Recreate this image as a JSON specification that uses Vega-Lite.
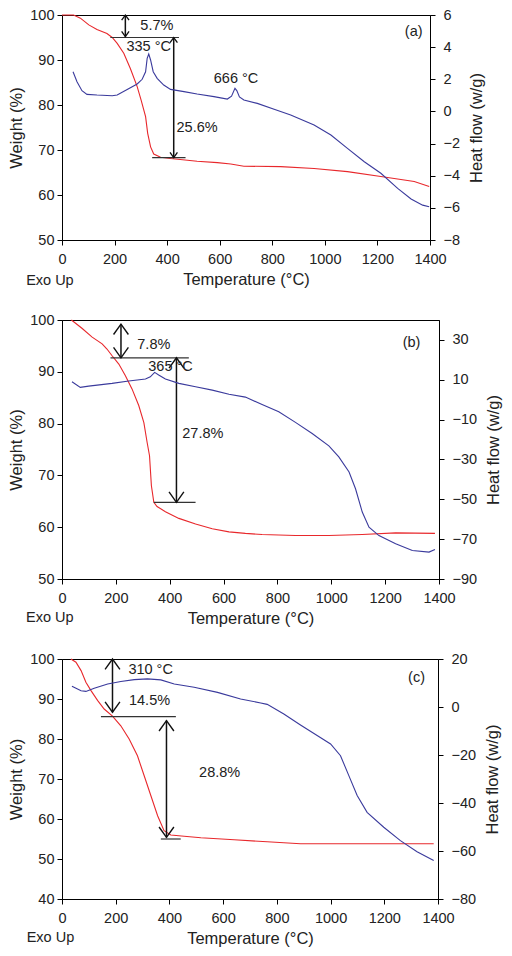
{
  "$schema": "https://vega.github.io/schema/vega-lite/v6.json",
  "padding": {"left": 8, "top": 6, "right": 0, "bottom": 0},
  "spacing": 22,
  "config": {
    "font": "Liberation Sans",
    "numberFormat": "d",
    "view": {"stroke": "#000", "strokeWidth": 1},
    "axis": {
      "grid": false, "domainColor": "#000", "tickColor": "#000", "tickSize": 5,
      "labelFont": "Liberation Sans", "titleFont": "Liberation Sans",
      "labelFontSize": 14.5, "titleFontSize": 16.5, "titleFontWeight": "normal",
      "labelColor": "#222", "titleColor": "#222", "labelOverlap": false, "labelFlush": false
    },
    "axisLeft": {"labelPadding": 3, "titlePadding": 5},
    "axisRight": {"labelPadding": 8, "titlePadding": 9, "labelAlign": "left", "titleAngle": 270, "titleBaseline": "top"},
    "axisBottom": {"labelPadding": 7, "titlePadding": 6},
    "text": {"font": "Liberation Sans", "fontSize": 14.5, "color": "#222"}
  },
  "datasets": {
    "a_w": [
      {"T": 0, "v": 100}, {"T": 44, "v": 100}, {"T": 70, "v": 99.3}, {"T": 102, "v": 97.8}, {"T": 133, "v": 96.8},
      {"T": 171, "v": 95.9}, {"T": 191, "v": 95}, {"T": 210, "v": 93.7}, {"T": 235, "v": 91.5}, {"T": 260, "v": 88.1},
      {"T": 286, "v": 84.1}, {"T": 301, "v": 81.1}, {"T": 318, "v": 77.4}, {"T": 326, "v": 73.7}, {"T": 337, "v": 70.7},
      {"T": 349, "v": 69.1}, {"T": 375, "v": 68.4}, {"T": 413, "v": 68.1}, {"T": 514, "v": 67.5}, {"T": 591, "v": 67.2},
      {"T": 642, "v": 66.9}, {"T": 692, "v": 66.4}, {"T": 832, "v": 66.3}, {"T": 959, "v": 65.9}, {"T": 1086, "v": 65.2},
      {"T": 1213, "v": 64.1}, {"T": 1340, "v": 63}, {"T": 1397, "v": 61.9}
    ],
    "a_h": [
      {"T": 42, "v": 2.47}, {"T": 57, "v": 1.85}, {"T": 76, "v": 1.29}, {"T": 95, "v": 1.06}, {"T": 133, "v": 1.02},
      {"T": 191, "v": 0.98}, {"T": 210, "v": 1.02}, {"T": 248, "v": 1.37}, {"T": 286, "v": 1.71}, {"T": 305, "v": 2.0},
      {"T": 318, "v": 2.47}, {"T": 324, "v": 3.3}, {"T": 330, "v": 3.57}, {"T": 337, "v": 3.2}, {"T": 347, "v": 2.47},
      {"T": 362, "v": 2.06}, {"T": 387, "v": 1.64}, {"T": 413, "v": 1.37}, {"T": 464, "v": 1.23}, {"T": 514, "v": 1.08},
      {"T": 578, "v": 0.92}, {"T": 629, "v": 0.77}, {"T": 645, "v": 0.95}, {"T": 658, "v": 1.44}, {"T": 665, "v": 1.3},
      {"T": 675, "v": 0.9}, {"T": 692, "v": 0.71}, {"T": 743, "v": 0.5}, {"T": 807, "v": 0.13}, {"T": 870, "v": -0.22},
      {"T": 959, "v": -0.85}, {"T": 1023, "v": -1.47}, {"T": 1086, "v": -2.3}, {"T": 1150, "v": -3.13}, {"T": 1213, "v": -3.85},
      {"T": 1277, "v": -4.79}, {"T": 1328, "v": -5.45}, {"T": 1372, "v": -5.83}, {"T": 1397, "v": -5.93}
    ],
    "b_w": [
      {"T": 35, "v": 100}, {"T": 74, "v": 98.4}, {"T": 112, "v": 96.7}, {"T": 149, "v": 95.4}, {"T": 167, "v": 94.4},
      {"T": 186, "v": 93.1}, {"T": 211, "v": 91.5}, {"T": 235, "v": 89.3}, {"T": 260, "v": 86.7}, {"T": 285, "v": 83.5},
      {"T": 304, "v": 80.2}, {"T": 316, "v": 76.4}, {"T": 325, "v": 73.8}, {"T": 332, "v": 68}, {"T": 341, "v": 64.8},
      {"T": 353, "v": 64}, {"T": 384, "v": 63}, {"T": 434, "v": 61.7}, {"T": 496, "v": 60.6}, {"T": 558, "v": 59.7},
      {"T": 620, "v": 59.1}, {"T": 681, "v": 58.8}, {"T": 743, "v": 58.6}, {"T": 867, "v": 58.4}, {"T": 991, "v": 58.4},
      {"T": 1115, "v": 58.6}, {"T": 1239, "v": 58.9}, {"T": 1385, "v": 58.8}
    ],
    "b_h": [
      {"T": 37, "v": 9.0}, {"T": 68, "v": 6.2}, {"T": 99, "v": 6.8}, {"T": 186, "v": 8.2}, {"T": 248, "v": 9.4},
      {"T": 310, "v": 10.4}, {"T": 328, "v": 11.5}, {"T": 344, "v": 13.7}, {"T": 359, "v": 12.4}, {"T": 384, "v": 10.4},
      {"T": 434, "v": 8.2}, {"T": 496, "v": 6.5}, {"T": 558, "v": 4.8}, {"T": 620, "v": 2.7}, {"T": 681, "v": 1.3},
      {"T": 743, "v": -2.4}, {"T": 805, "v": -6.1}, {"T": 867, "v": -11.4}, {"T": 929, "v": -17}, {"T": 991, "v": -23.2},
      {"T": 1028, "v": -28.7}, {"T": 1066, "v": -36.3}, {"T": 1090, "v": -44.7}, {"T": 1115, "v": -56.4}, {"T": 1140, "v": -64},
      {"T": 1177, "v": -68.2}, {"T": 1239, "v": -72.3}, {"T": 1301, "v": -75.7}, {"T": 1363, "v": -76.5}, {"T": 1385, "v": -75.2}
    ],
    "c_w": [
      {"T": 33, "v": 100}, {"T": 52, "v": 99.2}, {"T": 71, "v": 97.1}, {"T": 89, "v": 94.2}, {"T": 108, "v": 92.1},
      {"T": 133, "v": 89.6}, {"T": 157, "v": 87.5}, {"T": 188, "v": 85.7}, {"T": 219, "v": 83.3}, {"T": 250, "v": 80},
      {"T": 281, "v": 75.8}, {"T": 306, "v": 70.8}, {"T": 331, "v": 65.8}, {"T": 356, "v": 60.8}, {"T": 380, "v": 57.1},
      {"T": 405, "v": 56}, {"T": 455, "v": 55.7}, {"T": 517, "v": 55.3}, {"T": 641, "v": 54.8}, {"T": 764, "v": 54.3},
      {"T": 888, "v": 53.8}, {"T": 1012, "v": 53.8}, {"T": 1136, "v": 53.8}, {"T": 1384, "v": 53.8}
    ],
    "c_h": [
      {"T": 37, "v": 8.6}, {"T": 71, "v": 6.8}, {"T": 89, "v": 6.5}, {"T": 120, "v": 7.8}, {"T": 170, "v": 9.6},
      {"T": 219, "v": 10.6}, {"T": 269, "v": 11.4}, {"T": 318, "v": 11.7}, {"T": 368, "v": 11.3}, {"T": 418, "v": 9.6},
      {"T": 492, "v": 8.2}, {"T": 579, "v": 6.1}, {"T": 665, "v": 3.3}, {"T": 740, "v": 1.7}, {"T": 764, "v": 1.1},
      {"T": 826, "v": -2.9}, {"T": 888, "v": -7.5}, {"T": 950, "v": -11.9}, {"T": 1000, "v": -15.4}, {"T": 1037, "v": -20.3},
      {"T": 1068, "v": -28.6}, {"T": 1099, "v": -36.9}, {"T": 1136, "v": -43.9}, {"T": 1198, "v": -50.1}, {"T": 1260, "v": -55.7},
      {"T": 1322, "v": -60.3}, {"T": 1384, "v": -64}
    ],
    "hlines": [
      {"panel": "a", "x1": 184, "x2": 445, "y": 95},
      {"panel": "a", "x1": 343, "x2": 470, "y": 68.3},
      {"panel": "b", "x1": 180, "x2": 471, "y": 92.7},
      {"panel": "b", "x1": 341, "x2": 496, "y": 64.8},
      {"panel": "c", "x1": 145, "x2": 424, "y": 85.6},
      {"panel": "c", "x1": 368, "x2": 442, "y": 55}
    ],
    "vlines": [
      {"panel": "a", "x": 241, "y1": 100, "y2": 95.2},
      {"panel": "a", "x": 425, "y1": 95, "y2": 68.3},
      {"panel": "b", "x": 219, "y1": 99.2, "y2": 92.7},
      {"panel": "b", "x": 425, "y1": 92.7, "y2": 64.8},
      {"panel": "c", "x": 188, "y1": 100, "y2": 86.7},
      {"panel": "c", "x": 389, "y1": 84.6, "y2": 55.4}
    ],
    "heads": [
      {"panel": "a", "x": 241, "y": 100, "dir": "up"}, {"panel": "a", "x": 241, "y": 95.2, "dir": "down"},
      {"panel": "a", "x": 425, "y": 95, "dir": "up"}, {"panel": "a", "x": 425, "y": 68.3, "dir": "down"},
      {"panel": "b", "x": 219, "y": 99.2, "dir": "up"}, {"panel": "b", "x": 219, "y": 92.7, "dir": "down"},
      {"panel": "b", "x": 425, "y": 92.7, "dir": "up"}, {"panel": "b", "x": 425, "y": 64.8, "dir": "down"},
      {"panel": "c", "x": 188, "y": 100, "dir": "up"}, {"panel": "c", "x": 188, "y": 86.7, "dir": "down"},
      {"panel": "c", "x": 389, "y": 84.6, "dir": "up"}, {"panel": "c", "x": 389, "y": 55.4, "dir": "down"}
    ],
    "labels": [
      {"panel": "a", "x": 361, "y": 97.5, "text": "5.7%"},
      {"panel": "a", "x": 330, "y": 93.0, "text": "335 °C"},
      {"panel": "a", "x": 514, "y": 74.8, "text": "25.6%"},
      {"panel": "a", "x": 662, "y": 85.8, "text": "666 °C"},
      {"panel": "a", "x": 1338, "y": 96.3, "text": "(a)"},
      {"panel": "a", "x": -46, "y": 40.9, "text": "Exo Up"},
      {"panel": "b", "x": 341, "y": 95.2, "text": "7.8%"},
      {"panel": "b", "x": 403, "y": 90.9, "text": "365 °C"},
      {"panel": "b", "x": 523, "y": 78.0, "text": "27.8%"},
      {"panel": "b", "x": 1298, "y": 95.5, "text": "(b)"},
      {"panel": "b", "x": -45, "y": 42.4, "text": "Exo Up"},
      {"panel": "c", "x": 330, "y": 97.3, "text": "310 °C"},
      {"panel": "c", "x": 326, "y": 89.6, "text": "14.5%"},
      {"panel": "c", "x": 587, "y": 71.5, "text": "28.8%"},
      {"panel": "c", "x": 1320, "y": 95.2, "text": "(c)"},
      {"panel": "c", "x": -43, "y": 30.2, "text": "Exo Up"}
    ]
  },
  "vconcat": [
    {
      "width": 368, "height": 225,
      "layer": [
        {
          "layer": [
            {
              "data": {"name": "a_w"},
              "mark": {"type": "line", "color": "#e8282c", "strokeWidth": 1.1},
              "encoding": {
                "x": {"field": "T", "type": "quantitative", "scale": {"domain": [0, 1400], "nice": false}, "axis": {"title": "Temperature (°C)", "values": [0, 200, 400, 600, 800, 1000, 1200, 1400]}},
                "y": {"field": "v", "type": "quantitative", "scale": {"domain": [50, 100], "nice": false, "zero": false}, "axis": {"title": "Weight (%)", "orient": "left", "values": [50, 60, 70, 80, 90, 100]}}
              }
            },
            {
              "data": {"name": "hlines"},
              "transform": [{"filter": "datum.panel === 'a'"}],
              "mark": {"type": "rule", "color": "#333", "strokeWidth": 1.2},
              "encoding": {
                "x": {"field": "x1", "type": "quantitative", "scale": {"domain": [0, 1400], "nice": false}, "axis": {"title": "Temperature (°C)", "values": [0, 200, 400, 600, 800, 1000, 1200, 1400]}},
                "x2": {"field": "x2"},
                "y": {"field": "y", "type": "quantitative", "scale": {"domain": [50, 100], "nice": false, "zero": false}, "axis": {"title": "Weight (%)", "orient": "left", "values": [50, 60, 70, 80, 90, 100]}}
              }
            },
            {
              "data": {"name": "vlines"},
              "transform": [{"filter": "datum.panel === 'a'"}],
              "mark": {"type": "rule", "color": "#111", "strokeWidth": 1.5},
              "encoding": {
                "x": {"field": "x", "type": "quantitative", "scale": {"domain": [0, 1400], "nice": false}, "axis": {"title": "Temperature (°C)", "values": [0, 200, 400, 600, 800, 1000, 1200, 1400]}},
                "y": {"field": "y1", "type": "quantitative", "scale": {"domain": [50, 100], "nice": false, "zero": false}, "axis": {"title": "Weight (%)", "orient": "left", "values": [50, 60, 70, 80, 90, 100]}},
                "y2": {"field": "y2"}
              }
            },
            {
              "data": {"name": "heads"},
              "transform": [{"filter": "datum.panel === 'a'"}],
              "mark": {"type": "point", "filled": false, "stroke": "#111", "strokeWidth": 1.3, "opacity": 1, "size": 55},
              "encoding": {
                "x": {"field": "x", "type": "quantitative", "scale": {"domain": [0, 1400], "nice": false}, "axis": {"title": "Temperature (°C)", "values": [0, 200, 400, 600, 800, 1000, 1200, 1400]}},
                "y": {"field": "y", "type": "quantitative", "scale": {"domain": [50, 100], "nice": false, "zero": false}, "axis": {"title": "Weight (%)", "orient": "left", "values": [50, 60, 70, 80, 90, 100]}},
                "shape": {"field": "dir", "type": "nominal", "scale": {"domain": ["up", "down"], "range": ["M-1,1.4L0,0L1,1.4", "M-1,-1.4L0,0L1,-1.4"]}, "legend": null}
              }
            },
            {
              "data": {"name": "labels"},
              "transform": [{"filter": "datum.panel === 'a'"}],
              "mark": {"type": "text", "align": "center", "baseline": "middle"},
              "encoding": {
                "x": {"field": "x", "type": "quantitative", "scale": {"domain": [0, 1400], "nice": false}, "axis": {"title": "Temperature (°C)", "values": [0, 200, 400, 600, 800, 1000, 1200, 1400]}},
                "y": {"field": "y", "type": "quantitative", "scale": {"domain": [50, 100], "nice": false, "zero": false}, "axis": {"title": "Weight (%)", "orient": "left", "values": [50, 60, 70, 80, 90, 100]}},
                "text": {"field": "text"}
              }
            }
          ]
        },
        {
          "data": {"name": "a_h"},
          "mark": {"type": "line", "color": "#3a3a9c", "strokeWidth": 1.1},
          "encoding": {
            "x": {"field": "T", "type": "quantitative", "scale": {"domain": [0, 1400], "nice": false}, "axis": {"title": "Temperature (°C)", "values": [0, 200, 400, 600, 800, 1000, 1200, 1400]}},
            "y": {"field": "v", "type": "quantitative", "scale": {"domain": [-8, 6], "nice": false, "zero": false}, "axis": {"title": "Heat flow (w/g)", "orient": "right", "values": [-8, -6, -4, -2, 0, 2, 4, 6]}}
          }
        }
      ],
      "resolve": {"scale": {"y": "independent"}}
    },
    {
      "width": 377, "height": 259,
      "layer": [
        {
          "layer": [
            {
              "data": {"name": "b_w"},
              "mark": {"type": "line", "color": "#e8282c", "strokeWidth": 1.1},
              "encoding": {
                "x": {"field": "T", "type": "quantitative", "scale": {"domain": [0, 1400], "nice": false}, "axis": {"title": "Temperature (°C)", "values": [0, 200, 400, 600, 800, 1000, 1200, 1400]}},
                "y": {"field": "v", "type": "quantitative", "scale": {"domain": [50, 100], "nice": false, "zero": false}, "axis": {"title": "Weight (%)", "orient": "left", "values": [50, 60, 70, 80, 90, 100]}}
              }
            },
            {
              "data": {"name": "hlines"},
              "transform": [{"filter": "datum.panel === 'b'"}],
              "mark": {"type": "rule", "color": "#333", "strokeWidth": 1.2},
              "encoding": {
                "x": {"field": "x1", "type": "quantitative", "scale": {"domain": [0, 1400], "nice": false}, "axis": {"title": "Temperature (°C)", "values": [0, 200, 400, 600, 800, 1000, 1200, 1400]}},
                "x2": {"field": "x2"},
                "y": {"field": "y", "type": "quantitative", "scale": {"domain": [50, 100], "nice": false, "zero": false}, "axis": {"title": "Weight (%)", "orient": "left", "values": [50, 60, 70, 80, 90, 100]}}
              }
            },
            {
              "data": {"name": "vlines"},
              "transform": [{"filter": "datum.panel === 'b'"}],
              "mark": {"type": "rule", "color": "#111", "strokeWidth": 1.5},
              "encoding": {
                "x": {"field": "x", "type": "quantitative", "scale": {"domain": [0, 1400], "nice": false}, "axis": {"title": "Temperature (°C)", "values": [0, 200, 400, 600, 800, 1000, 1200, 1400]}},
                "y": {"field": "y1", "type": "quantitative", "scale": {"domain": [50, 100], "nice": false, "zero": false}, "axis": {"title": "Weight (%)", "orient": "left", "values": [50, 60, 70, 80, 90, 100]}},
                "y2": {"field": "y2"}
              }
            },
            {
              "data": {"name": "heads"},
              "transform": [{"filter": "datum.panel === 'b'"}],
              "mark": {"type": "point", "filled": false, "stroke": "#111", "strokeWidth": 1.4, "opacity": 1, "size": 220},
              "encoding": {
                "x": {"field": "x", "type": "quantitative", "scale": {"domain": [0, 1400], "nice": false}, "axis": {"title": "Temperature (°C)", "values": [0, 200, 400, 600, 800, 1000, 1200, 1400]}},
                "y": {"field": "y", "type": "quantitative", "scale": {"domain": [50, 100], "nice": false, "zero": false}, "axis": {"title": "Weight (%)", "orient": "left", "values": [50, 60, 70, 80, 90, 100]}},
                "shape": {"field": "dir", "type": "nominal", "scale": {"domain": ["up", "down"], "range": ["M-1,1.4L0,0L1,1.4", "M-1,-1.4L0,0L1,-1.4"]}, "legend": null}
              }
            },
            {
              "data": {"name": "labels"},
              "transform": [{"filter": "datum.panel === 'b'"}],
              "mark": {"type": "text", "align": "center", "baseline": "middle"},
              "encoding": {
                "x": {"field": "x", "type": "quantitative", "scale": {"domain": [0, 1400], "nice": false}, "axis": {"title": "Temperature (°C)", "values": [0, 200, 400, 600, 800, 1000, 1200, 1400]}},
                "y": {"field": "y", "type": "quantitative", "scale": {"domain": [50, 100], "nice": false, "zero": false}, "axis": {"title": "Weight (%)", "orient": "left", "values": [50, 60, 70, 80, 90, 100]}},
                "text": {"field": "text"}
              }
            }
          ]
        },
        {
          "data": {"name": "b_h"},
          "mark": {"type": "line", "color": "#3a3a9c", "strokeWidth": 1.1},
          "encoding": {
            "x": {"field": "T", "type": "quantitative", "scale": {"domain": [0, 1400], "nice": false}, "axis": {"title": "Temperature (°C)", "values": [0, 200, 400, 600, 800, 1000, 1200, 1400]}},
            "y": {"field": "v", "type": "quantitative", "scale": {"domain": [-90, 40], "nice": false, "zero": false}, "axis": {"title": "Heat flow (w/g)", "orient": "right", "values": [-90, -70, -50, -30, -10, 10, 30]}}
          }
        }
      ],
      "resolve": {"scale": {"y": "independent"}}
    },
    {
      "width": 376, "height": 240,
      "layer": [
        {
          "layer": [
            {
              "data": {"name": "c_w"},
              "mark": {"type": "line", "color": "#e8282c", "strokeWidth": 1.1},
              "encoding": {
                "x": {"field": "T", "type": "quantitative", "scale": {"domain": [0, 1400], "nice": false}, "axis": {"title": "Temperature (°C)", "values": [0, 200, 400, 600, 800, 1000, 1200, 1400]}},
                "y": {"field": "v", "type": "quantitative", "scale": {"domain": [40, 100], "nice": false, "zero": false}, "axis": {"title": "Weight (%)", "orient": "left", "values": [40, 50, 60, 70, 80, 90, 100]}}
              }
            },
            {
              "data": {"name": "hlines"},
              "transform": [{"filter": "datum.panel === 'c'"}],
              "mark": {"type": "rule", "color": "#333", "strokeWidth": 1.2},
              "encoding": {
                "x": {"field": "x1", "type": "quantitative", "scale": {"domain": [0, 1400], "nice": false}, "axis": {"title": "Temperature (°C)", "values": [0, 200, 400, 600, 800, 1000, 1200, 1400]}},
                "x2": {"field": "x2"},
                "y": {"field": "y", "type": "quantitative", "scale": {"domain": [40, 100], "nice": false, "zero": false}, "axis": {"title": "Weight (%)", "orient": "left", "values": [40, 50, 60, 70, 80, 90, 100]}}
              }
            },
            {
              "data": {"name": "vlines"},
              "transform": [{"filter": "datum.panel === 'c'"}],
              "mark": {"type": "rule", "color": "#111", "strokeWidth": 1.5},
              "encoding": {
                "x": {"field": "x", "type": "quantitative", "scale": {"domain": [0, 1400], "nice": false}, "axis": {"title": "Temperature (°C)", "values": [0, 200, 400, 600, 800, 1000, 1200, 1400]}},
                "y": {"field": "y1", "type": "quantitative", "scale": {"domain": [40, 100], "nice": false, "zero": false}, "axis": {"title": "Weight (%)", "orient": "left", "values": [40, 50, 60, 70, 80, 90, 100]}},
                "y2": {"field": "y2"}
              }
            },
            {
              "data": {"name": "heads"},
              "transform": [{"filter": "datum.panel === 'c'"}],
              "mark": {"type": "point", "filled": false, "stroke": "#111", "strokeWidth": 1.4, "opacity": 1, "size": 220},
              "encoding": {
                "x": {"field": "x", "type": "quantitative", "scale": {"domain": [0, 1400], "nice": false}, "axis": {"title": "Temperature (°C)", "values": [0, 200, 400, 600, 800, 1000, 1200, 1400]}},
                "y": {"field": "y", "type": "quantitative", "scale": {"domain": [40, 100], "nice": false, "zero": false}, "axis": {"title": "Weight (%)", "orient": "left", "values": [40, 50, 60, 70, 80, 90, 100]}},
                "shape": {"field": "dir", "type": "nominal", "scale": {"domain": ["up", "down"], "range": ["M-1,1.4L0,0L1,1.4", "M-1,-1.4L0,0L1,-1.4"]}, "legend": null}
              }
            },
            {
              "data": {"name": "labels"},
              "transform": [{"filter": "datum.panel === 'c'"}],
              "mark": {"type": "text", "align": "center", "baseline": "middle"},
              "encoding": {
                "x": {"field": "x", "type": "quantitative", "scale": {"domain": [0, 1400], "nice": false}, "axis": {"title": "Temperature (°C)", "values": [0, 200, 400, 600, 800, 1000, 1200, 1400]}},
                "y": {"field": "y", "type": "quantitative", "scale": {"domain": [40, 100], "nice": false, "zero": false}, "axis": {"title": "Weight (%)", "orient": "left", "values": [40, 50, 60, 70, 80, 90, 100]}},
                "text": {"field": "text"}
              }
            }
          ]
        },
        {
          "data": {"name": "c_h"},
          "mark": {"type": "line", "color": "#3a3a9c", "strokeWidth": 1.1},
          "encoding": {
            "x": {"field": "T", "type": "quantitative", "scale": {"domain": [0, 1400], "nice": false}, "axis": {"title": "Temperature (°C)", "values": [0, 200, 400, 600, 800, 1000, 1200, 1400]}},
            "y": {"field": "v", "type": "quantitative", "scale": {"domain": [-80, 20], "nice": false, "zero": false}, "axis": {"title": "Heat flow (w/g)", "orient": "right", "values": [-80, -60, -40, -20, 0, 20]}}
          }
        }
      ],
      "resolve": {"scale": {"y": "independent"}}
    }
  ]
}
